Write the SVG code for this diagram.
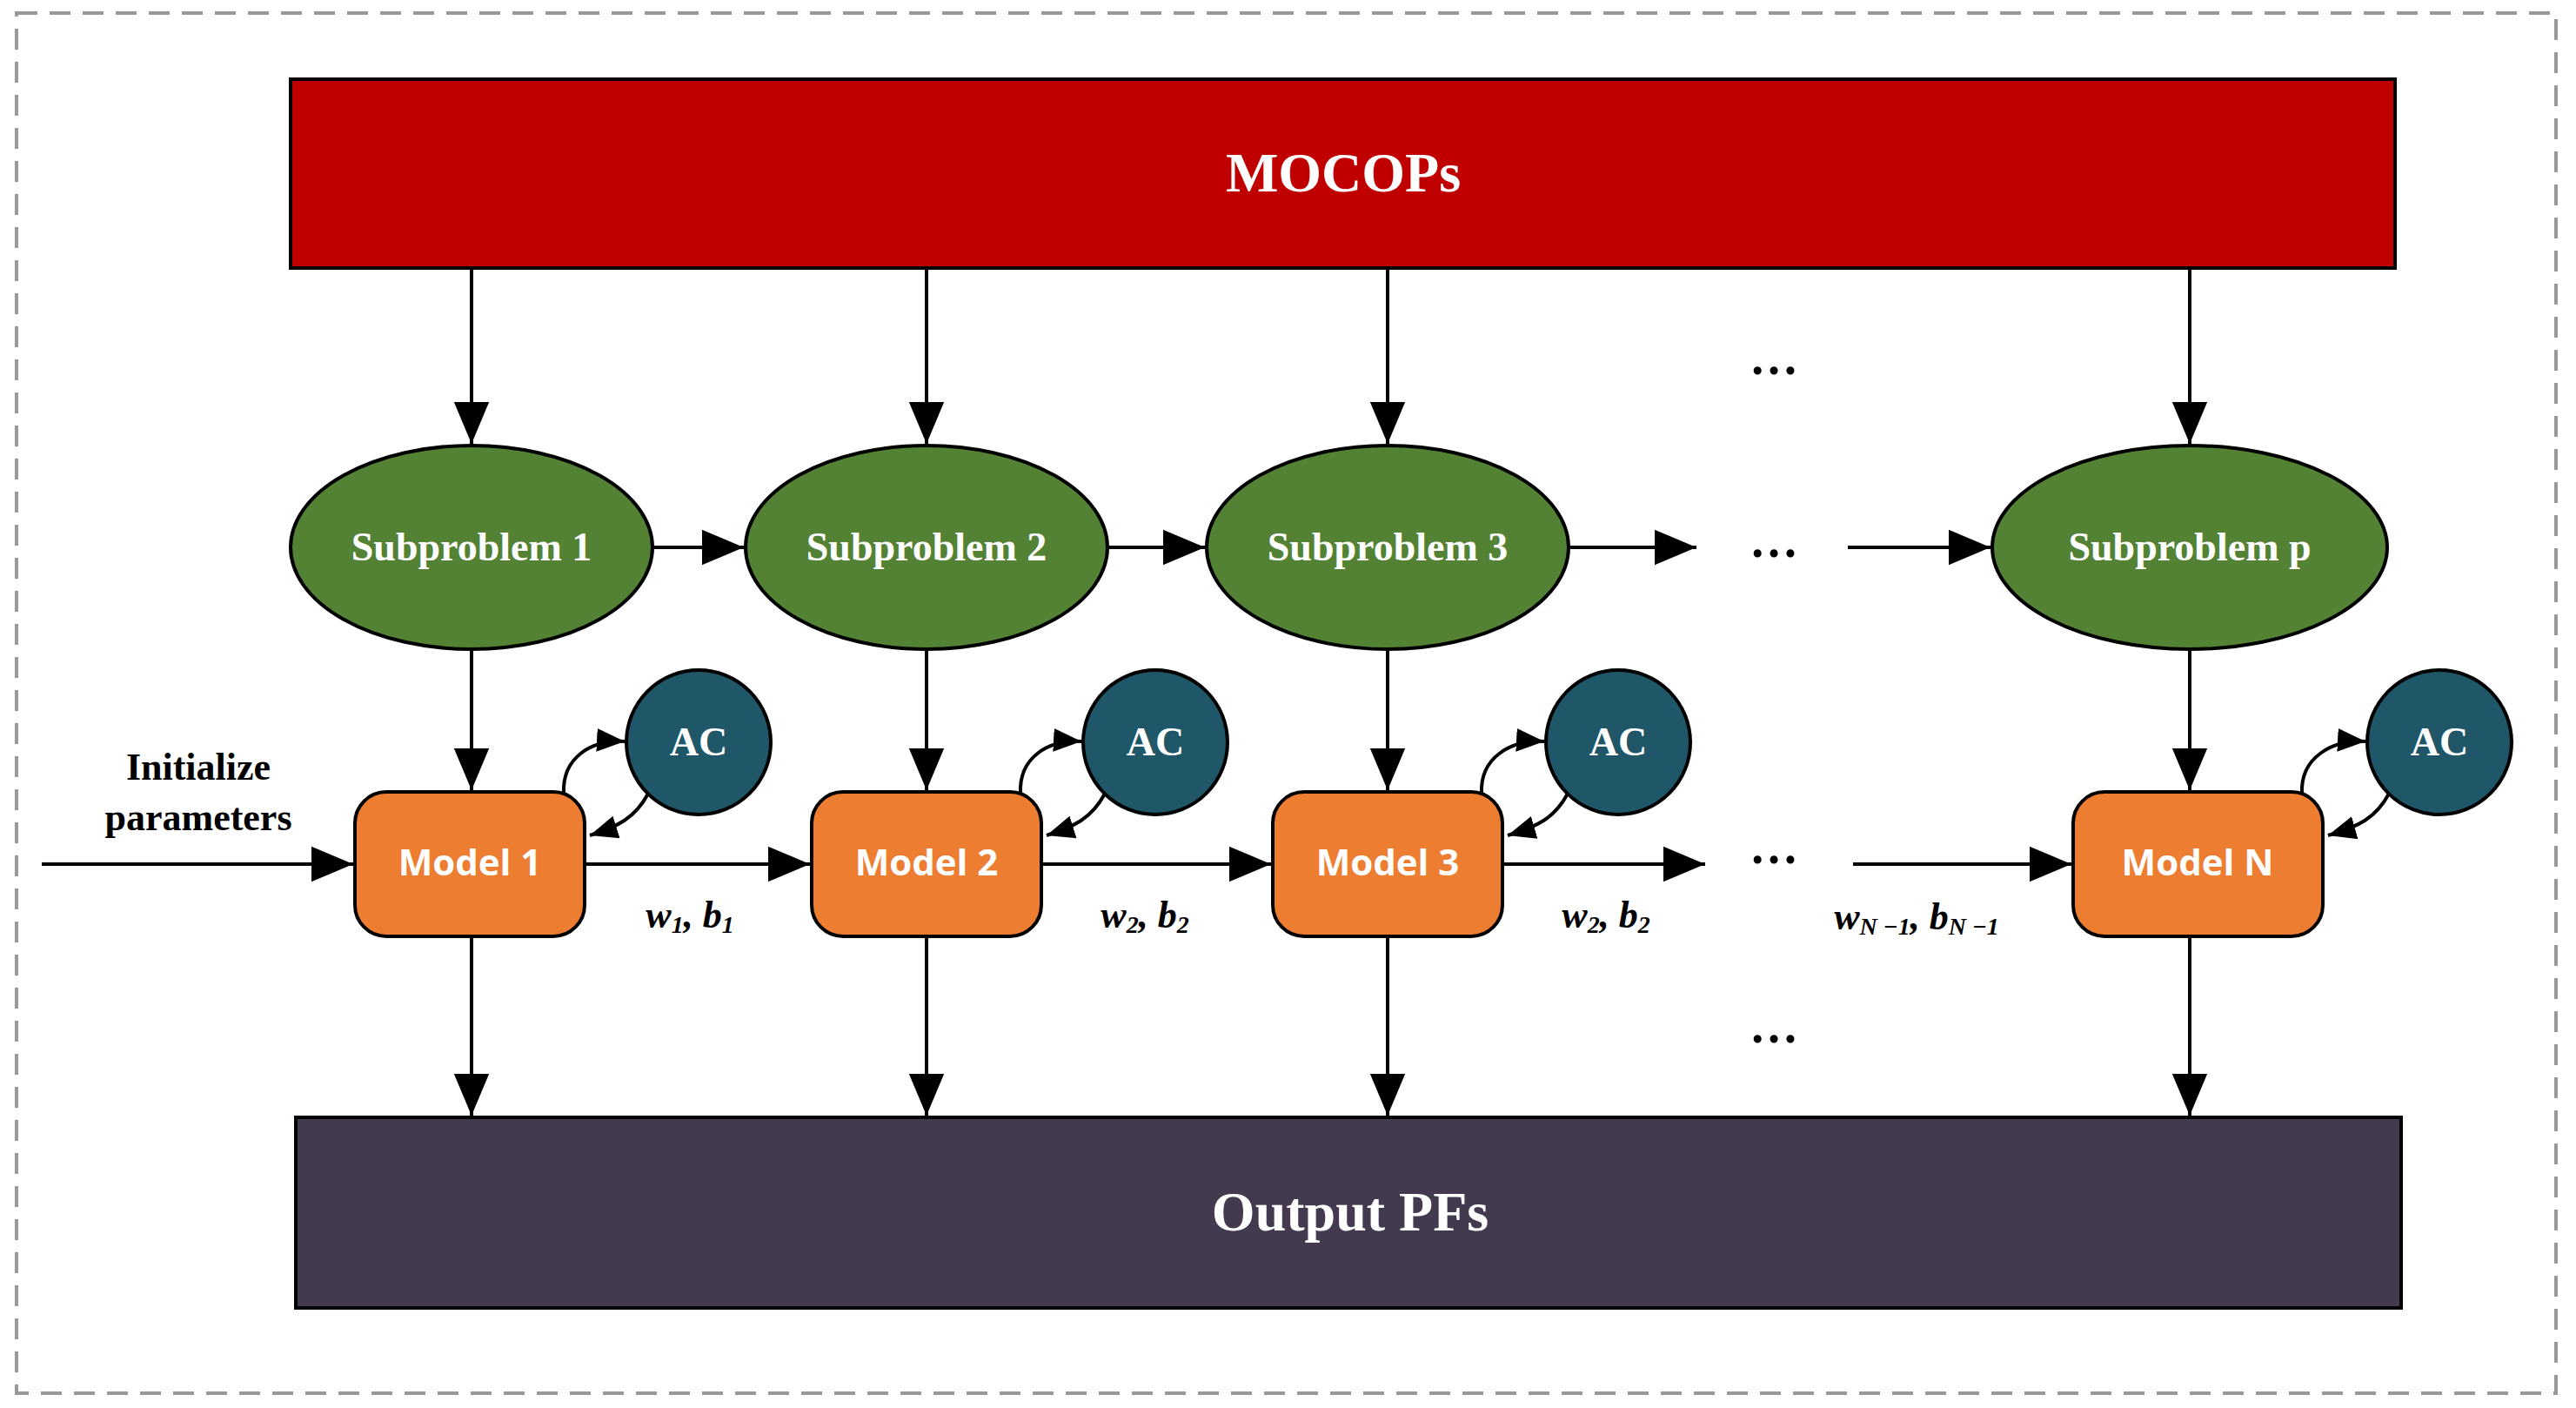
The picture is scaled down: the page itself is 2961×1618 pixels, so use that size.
<svg xmlns="http://www.w3.org/2000/svg" width="2961" height="1618" viewBox="0 0 2961 1618">
<defs>
<marker id="a" viewBox="0 0 10 10" refX="10" refY="5" markerWidth="10" markerHeight="10" markerUnits="userSpaceOnUse" orient="auto"><path d="M0,0 L10,5 L0,10 z" fill="#000"/></marker>
<marker id="A" viewBox="0 0 10 10" refX="10" refY="5" markerWidth="48" markerHeight="48" markerUnits="userSpaceOnUse" orient="auto"><path d="M0,0.8 L10,5 L0,9.2 z" fill="#000"/></marker>
<marker id="s" viewBox="0 0 10 10" refX="10" refY="5" markerWidth="32" markerHeight="32" markerUnits="userSpaceOnUse" orient="auto"><path d="M0,0.8 L10,5 L0,9.2 z" fill="#000"/></marker>
</defs>
<style>
.c line{stroke:#000;stroke-width:4;marker-end:url(#A)}
.c path{stroke:#000;stroke-width:4;fill:none;marker-end:url(#s)}
.big{font-family:"Liberation Serif",serif;font-weight:bold;fill:#fff;font-size:64px;text-anchor:middle}
.sp{font-family:"Liberation Serif",serif;font-weight:bold;fill:#fff;font-size:46px;text-anchor:middle}
.md{font-family:"Open Sans",sans-serif;font-weight:bold;fill:#fff;font-size:42px;text-anchor:middle}
.lb{font-family:"Liberation Serif",serif;font-weight:bold;fill:#000;font-size:44px;text-anchor:middle}
.w{font-family:"Liberation Serif",serif;font-weight:bold;font-style:italic;fill:#000;font-size:44px;text-anchor:middle}
.dots{font-family:"Liberation Serif",serif;font-weight:bold;fill:#000;font-size:56px;text-anchor:middle}
.el{fill:#548235;stroke:#000;stroke-width:4}
.mo{fill:#ED7D31;stroke:#000;stroke-width:4}
.ac{fill:#1F5668;stroke:#000;stroke-width:4}
</style>
<rect x="19" y="15" width="2919" height="1586" fill="#fff" stroke="#999" stroke-width="4" stroke-dasharray="24,14"/>
<g id="mocops"><rect x="334" y="91" width="2419" height="217" fill="#C00000" stroke="#000" stroke-width="4"/><text class="big" x="1544" y="220">MOCOPs</text></g>
<g id="output"><rect x="340" y="1284" width="2420" height="219" fill="#433A50" stroke="#000" stroke-width="4"/><text class="big" x="1552" y="1414">Output PFs</text></g>
<g id="sub1"><ellipse class="el" cx="542" cy="629" rx="208" ry="117"/><text class="sp" x="542" y="644">Subproblem 1</text></g>
<g id="sub2"><ellipse class="el" cx="1065" cy="629" rx="208" ry="117"/><text class="sp" x="1065" y="644">Subproblem 2</text></g>
<g id="sub3"><ellipse class="el" cx="1595" cy="629" rx="208" ry="117"/><text class="sp" x="1595" y="644">Subproblem 3</text></g>
<g id="subp"><ellipse class="el" cx="2517" cy="629" rx="227" ry="117"/><text class="sp" x="2517" y="644">Subproblem p</text></g>
<g id="m1"><rect class="mo" x="408" y="910" width="264" height="166" rx="36"/><text class="md" x="540" y="1006">Model 1</text></g>
<g id="m2"><rect class="mo" x="933" y="910" width="264" height="166" rx="36"/><text class="md" x="1065" y="1006">Model 2</text></g>
<g id="m3"><rect class="mo" x="1463" y="910" width="264" height="166" rx="36"/><text class="md" x="1595" y="1006">Model 3</text></g>
<g id="mN"><rect class="mo" x="2383" y="910" width="287" height="166" rx="36"/><text class="md" x="2526" y="1006">Model N</text></g>
<g id="ac1"><circle class="ac" cx="803" cy="853" r="83"/><text class="sp" x="803" y="868">AC</text></g>
<g id="ac2"><circle class="ac" cx="1328" cy="853" r="83"/><text class="sp" x="1328" y="868">AC</text></g>
<g id="ac3"><circle class="ac" cx="1860" cy="853" r="83"/><text class="sp" x="1860" y="868">AC</text></g>
<g id="acN"><circle class="ac" cx="2804" cy="853" r="83"/><text class="sp" x="2804" y="868">AC</text></g>
<g id="labels">
<text class="lb" x="228" y="896">Initialize</text>
<text class="lb" x="228" y="954">parameters</text>
<text class="w" x="793" y="1066">w<tspan font-size="28" dy="6">1</tspan><tspan dy="-6">, b</tspan><tspan font-size="28" dy="6">1</tspan></text>
<text class="w" x="1316" y="1066">w<tspan font-size="28" dy="6">2</tspan><tspan dy="-6">, b</tspan><tspan font-size="28" dy="6">2</tspan></text>
<text class="w" x="1846" y="1066">w<tspan font-size="28" dy="6">2</tspan><tspan dy="-6">, b</tspan><tspan font-size="28" dy="6">2</tspan></text>
<text class="w" x="2203" y="1068">w<tspan font-size="28" dy="6">N −1</tspan><tspan dy="-6">, b</tspan><tspan font-size="28" dy="6">N −1</tspan></text>
<text class="dots" x="2039" y="430">…</text>
<text class="dots" x="2039" y="640">…</text>
<text class="dots" x="2039" y="992">…</text>
<text class="dots" x="2039" y="1198">…</text>
</g>
<g id="connectors" class="c">
<line x1="542" y1="308" x2="542" y2="510"/>
<line x1="1065" y1="308" x2="1065" y2="510"/>
<line x1="1595" y1="308" x2="1595" y2="510"/>
<line x1="2517" y1="308" x2="2517" y2="510"/>
<line x1="750" y1="629" x2="855" y2="629"/>
<line x1="1273" y1="629" x2="1385" y2="629"/>
<line x1="1803" y1="629" x2="1950" y2="629"/>
<line x1="2124" y1="629" x2="2288" y2="629"/>
<line x1="542" y1="746" x2="542" y2="908"/>
<line x1="1065" y1="746" x2="1065" y2="908"/>
<line x1="1595" y1="746" x2="1595" y2="908"/>
<line x1="2517" y1="746" x2="2517" y2="908"/>
<line x1="48" y1="993" x2="406" y2="993"/>
<line x1="672" y1="993" x2="931" y2="993"/>
<line x1="1197" y1="993" x2="1461" y2="993"/>
<line x1="1727" y1="993" x2="1960" y2="993"/>
<line x1="2130" y1="993" x2="2381" y2="993"/>
<line x1="542" y1="1076" x2="542" y2="1282"/>
<line x1="1065" y1="1076" x2="1065" y2="1282"/>
<line x1="1595" y1="1076" x2="1595" y2="1282"/>
<line x1="2517" y1="1076" x2="2517" y2="1282"/>
<path d="M648,912 C646,870 680,850 718,852"/>
<path d="M745,912 C730,940 710,950 678,960"/>
<path d="M1173,912 C1171,870 1205,850 1243,852"/>
<path d="M1270,912 C1255,940 1235,950 1203,960"/>
<path d="M1703,912 C1701,870 1737,850 1775,852"/>
<path d="M1802,912 C1787,940 1767,950 1733,960"/>
<path d="M2646,912 C2644,870 2681,850 2719,852"/>
<path d="M2746,912 C2731,940 2711,950 2676,960"/>
</g>
</svg>
